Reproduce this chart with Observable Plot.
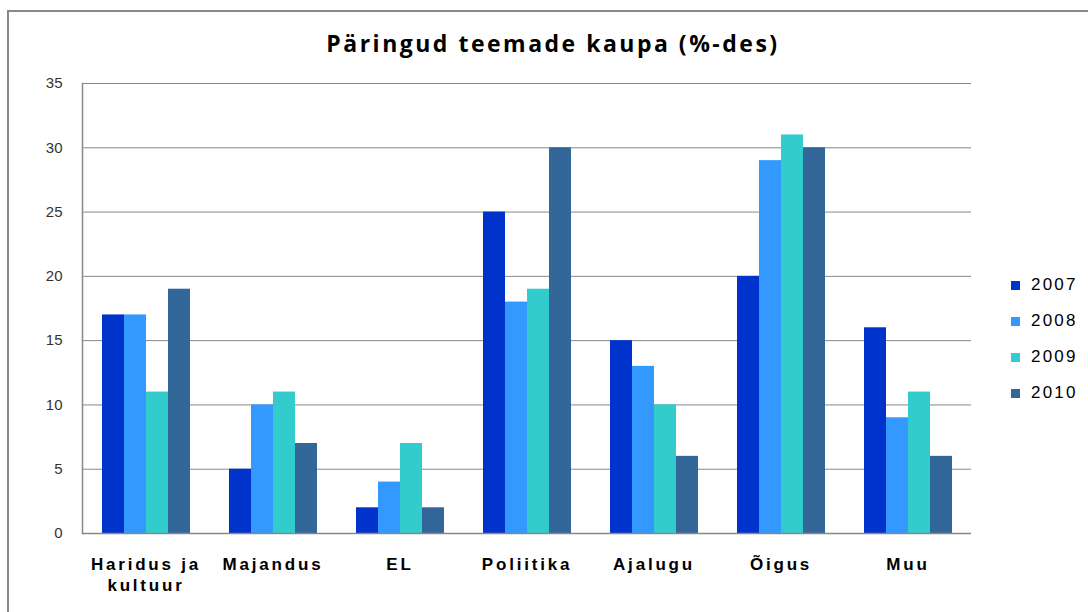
<!DOCTYPE html>
<html>
<head>
<meta charset="utf-8">
<script src="https://cdn.jsdelivr.net/npm/d3@7"></script>
<script src="https://cdn.jsdelivr.net/npm/@observablehq/plot@0.6"></script>
<style>
  html, body { margin: 0; padding: 0; background: #fff; }
  #wrap { position: relative; width: 1088px; height: 612px; overflow: hidden; }
  #frame { position: absolute; left: 7px; top: 10px; width: 1200px; height: 700px;
           border-left: 2px solid #888; border-top: 2px solid #888; }
  #title { position: absolute; left: 0; width: 1106px; top: 27px; text-align: center;
           font: bold 23px "Open Sans", "Liberation Sans", Arial, sans-serif; letter-spacing: 2.5px; color: #000; }
  #legend { position: absolute; left: 1011px; top: 273px;
            font: 17px "Liberation Sans", Arial, sans-serif; letter-spacing: 2.2px; color: #000; }
  #legend .item { height: 36px; display: flex; align-items: center; position: relative; top: -6px; }
  #legend .sw { width: 9px; height: 9px; margin-right: 11px; }
  #chart { position: absolute; left: 0; top: 0; }
</style>
</head>
<body>
<div id="wrap">
  <div id="frame"></div>
  <div id="chart"></div>
  <div id="title"></div>
  <div id="legend"></div>
</div>
<script>
const title = "Päringud teemade kaupa (%-des)";
const categories = ["Haridus ja kultuur", "Majandus", "EL", "Poliitika", "Ajalugu", "Õigus", "Muu"];
const categoryLabels = ["Haridus ja\nkultuur", "Majandus", "EL", "Poliitika", "Ajalugu", "Õigus", "Muu"];
const years = ["2007", "2008", "2009", "2010"];
const colors = ["#0033CC", "#3399FF", "#33CCCC", "#336699"];
const v2007 = [17, 5, 2, 25, 15, 20, 16];
const v2008 = [17, 10, 4, 18, 13, 29, 9];
const v2009 = [11, 11, 7, 19, 10, 31, 11];
const v2010 = [19, 7, 2, 30, 6, 30, 6];
const yTicks = [0, 5, 10, 15, 20, 25, 30, 35];

const series = [v2007, v2008, v2009, v2010];
const data = [];
categories.forEach((c, i) => years.forEach((y, j) => data.push({cat: c, year: y, value: series[j][i]})));

const labelOf = Object.fromEntries(categories.map((c, i) => [c, categoryLabels[i]]));

const chart = Plot.plot({
  width: 1088,
  height: 612,
  marginLeft: 80,
  marginRight: 115,
  marginTop: 83,
  marginBottom: 79,
  style: {fontFamily: "'Liberation Sans', Arial, sans-serif", background: "transparent"},
  fx: {domain: categories, padding: 0, label: null, axis: null},
  x: {domain: years, paddingInner: 0, paddingOuter: 0.77, axis: null},
  y: {domain: [0, 35], ticks: yTicks, label: null},
  color: {domain: years, range: colors},
  marks: [
    Plot.gridY(yTicks, {stroke: "#888", strokeOpacity: 1, strokeWidth: 1}),
    Plot.frame({anchor: "left", facetAnchor: "left", stroke: "#888", strokeWidth: 1.5}),
    Plot.axisY(yTicks, {tickSize: 0, tickPadding: 20, fontSize: 15, fill: "#333",
      style: "letter-spacing:3px", label: null}),
    Plot.barY(data, {fx: "cat", x: "year", y: "value", fill: "year"}),
    Plot.ruleY([0], {stroke: "#888", strokeWidth: 1.5}),
    Plot.axisFx({anchor: "bottom", tickSize: 0, tickPadding: 21, fontSize: 17, fontWeight: "bold", fill: "#000",
      tickFormat: d => labelOf[d], label: null, lineHeight: 1.25})
  ]
});
chart.querySelectorAll("[aria-label='fx-axis tick label'] text").forEach(t => t.style.letterSpacing = "2.8px");
document.getElementById("chart").appendChild(chart);
document.getElementById("title").textContent = title;
const lg = document.getElementById("legend");
years.forEach((y, i) => {
  const it = document.createElement("div");
  it.className = "item";
  it.innerHTML = `<span class="sw" style="background:${colors[i]}"></span><span>${y}</span>`;
  lg.appendChild(it);
});
</script>
</body>
</html>
